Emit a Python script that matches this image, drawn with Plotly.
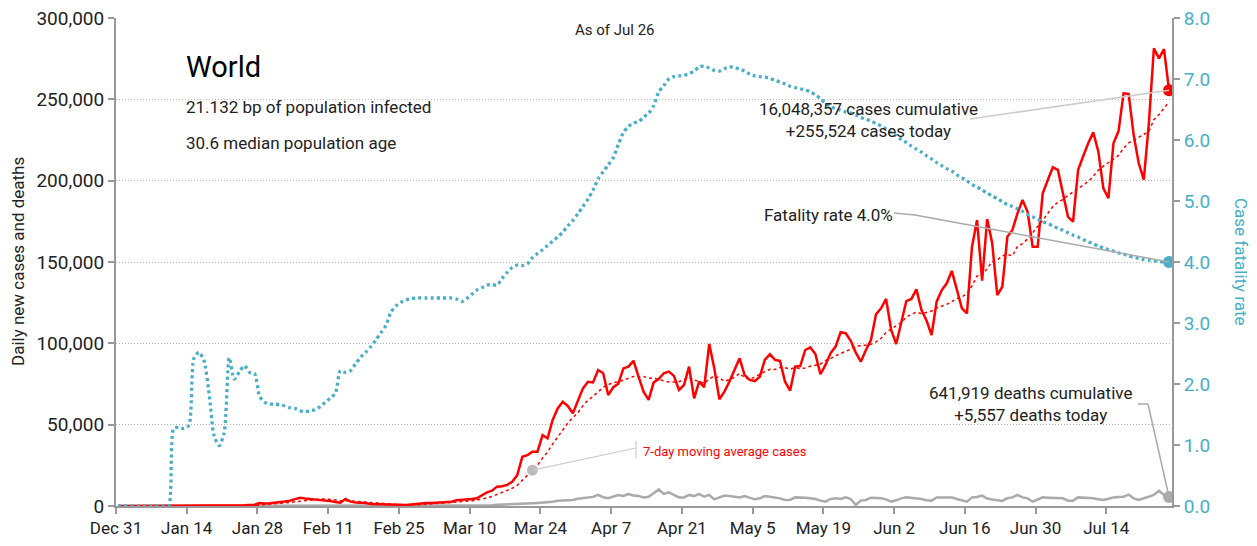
import pandas as pd
import plotly.graph_objects as go

# ---------------- data ----------------
start_date = "2019-12-31"

cases = [
    0, 0, 0, 0, 0, 0, 0, 0, 0, 0,
    0, 0, 0, 0, 0, 0, 0, 20, 20, 140,
    20, 150, 140, 100, 270, 450, 670, 800, 1770, 1480,
    1750, 2000, 2500, 2800, 3300, 4000, 5100, 4600, 4300, 4300,
    4000, 3300, 3000, 2500, 2000, 4300, 2700, 2200, 2000, 1900,
    1200, 1100, 900, 800, 600, 500, 400, 600, 900, 1300,
    1600, 1800, 1900, 2000, 2200, 2400, 2600, 3600, 3700, 4000,
    4300, 4700, 6500, 8400, 9400, 11900, 12100, 13000, 14900, 19000,
    30300, 31300, 33400, 33400, 43600, 41600, 52900, 60000, 64100, 61500,
    57000, 64100, 72300, 76400, 76000, 83600, 81600, 68200, 73000, 75200,
    84600, 85700, 89300, 79500, 70300, 65200, 76000, 78000, 81600, 82600,
    80000, 71300, 74400, 85700, 66200, 76500, 73000, 99600, 84600, 65600,
    70300, 76500, 83600, 90800, 80500, 77500, 76800, 79500, 89800, 93400,
    89800, 89200, 76400, 70900, 85700, 86000, 95900, 97500, 93400, 81000,
    86700, 93900, 98000, 106800, 106200, 101600, 94300, 88700, 95900, 102000,
    117800, 121500, 127300, 108200, 99600, 113000, 126000, 127300, 133200, 120500,
    114000, 105100, 125600, 132600, 136900, 144500, 133800, 121500, 118400, 159400,
    175800, 138500, 176400, 161500, 129700, 134800, 165600, 169700, 179900, 188100,
    180900, 159400, 159400, 192200, 200400, 208200, 206600, 192200, 177800, 174800,
    206600, 215000, 223000, 229700, 218000, 195300, 189200, 223000, 230500, 253700,
    253300, 228000, 210700, 200600, 235000, 281400, 275200, 280800, 255524,
]

deaths = [
    0, 0, 0, 0, 0, 0, 0, 0, 0, 0,
    0, 1, 0, 0, 0, 0, 0, 0, 0, 1,
    3, 10, 10, 15, 15, 15, 25, 25, 26, 38,
    43, 46, 45, 57, 64, 66, 73, 73, 86, 89,
    97, 108, 97, 146, 121, 143, 142, 105, 98, 136,
    115, 118, 109, 97, 150, 71, 64, 37, 58, 67,
    72, 69, 86, 73, 87, 100, 105, 104, 99, 230,
    250, 300, 350, 400, 450, 700, 800, 850, 1000, 1100,
    1300, 1600, 1700, 1900, 2100, 2400, 2600, 3200, 3400, 3300,
    3700, 4500, 4900, 5300, 5600, 6800, 5400, 4800, 6000, 6800,
    6200, 7400, 6500, 6200, 5300, 5700, 7800, 10200, 7400, 8400,
    6800, 5300, 5300, 6800, 6100, 7400, 5700, 6800, 4100, 5300,
    6400, 6100, 5700, 5300, 6100, 5300, 4100, 4700, 6100, 5700,
    5300, 4700, 3700, 3700, 5300, 5300, 5100, 4700, 4300, 3300,
    2650, 4300, 4700, 4300, 5300, 4300, 600, 3300, 3700, 5100,
    5100, 4700, 4100, 2700, 3500, 4700, 5300, 5000, 4700, 4300,
    3600, 3300, 5300, 5200, 5300, 5300, 4300, 3300, 2650, 5300,
    5500, 6400, 4600, 4000, 3500, 3100, 4800, 5300, 6800, 5300,
    4700, 2650, 4000, 5300, 5100, 4900, 4800, 4700, 3300, 3300,
    5300, 5200, 5000, 4700, 4200, 3700, 4500, 5300, 5500, 5700,
    7000, 4700, 3700, 4700, 5700, 6800, 9400, 6800, 5557,
]

fatality_pct = [
    0, 0, 0, 0, 0, 0, 0, 0, 0, 0,
    0, 1.27, 1.29, 1.27, 1.32, 2.42, 2.52, 2.38, 1.85, 1.15,
    0.99, 1.20, 2.43, 2.08, 2.20, 2.30, 2.19, 2.17, 1.80, 1.70,
    1.67, 1.67, 1.66, 1.64, 1.61, 1.60, 1.56, 1.55, 1.56, 1.58,
    1.63, 1.70, 1.77, 1.85, 2.22, 2.19, 2.22, 2.33, 2.44, 2.52,
    2.61, 2.72, 2.84, 2.96, 3.18, 3.28, 3.34, 3.38, 3.40, 3.41,
    3.41, 3.41, 3.41, 3.41, 3.41, 3.41, 3.41, 3.39, 3.35, 3.40,
    3.47, 3.54, 3.58, 3.62, 3.63, 3.62, 3.73, 3.83, 3.91, 3.95,
    3.94, 3.97, 4.07, 4.14, 4.20, 4.27, 4.34, 4.41, 4.49, 4.59,
    4.68, 4.79, 4.91, 5.03, 5.18, 5.36, 5.48, 5.59, 5.71, 5.93,
    6.12, 6.22, 6.28, 6.30, 6.37, 6.44, 6.56, 6.79, 6.89, 7.00,
    7.04, 7.05, 7.06, 7.09, 7.13, 7.20, 7.21, 7.18, 7.14, 7.13,
    7.17, 7.20, 7.19, 7.16, 7.13, 7.08, 7.05, 7.04, 7.03, 7.01,
    6.98, 6.95, 6.92, 6.88, 6.86, 6.84, 6.82, 6.79, 6.74, 6.68,
    6.60, 6.55, 6.51, 6.49, 6.46, 6.44, 6.41, 6.37, 6.34, 6.31,
    6.27, 6.23, 6.18, 6.12, 6.07, 6.01, 5.96, 5.90, 5.85, 5.80,
    5.74, 5.69, 5.63, 5.58, 5.53, 5.49, 5.43, 5.38, 5.33, 5.27,
    5.23, 5.18, 5.13, 5.08, 5.04, 4.99, 4.94, 4.91, 4.87, 4.83,
    4.78, 4.74, 4.70, 4.66, 4.63, 4.59, 4.55, 4.52, 4.48, 4.44,
    4.41, 4.37, 4.33, 4.30, 4.26, 4.23, 4.20, 4.18, 4.15, 4.13,
    4.10, 4.08, 4.06, 4.04, 4.03, 4.02, 4.01, 4.00, 4.00,
]

tick_dates = ["2019-12-31", "2020-01-14", "2020-01-28", "2020-02-11", "2020-02-25",
              "2020-03-10", "2020-03-24", "2020-04-07", "2020-04-21", "2020-05-05",
              "2020-05-19", "2020-06-02", "2020-06-16", "2020-06-30", "2020-07-14"]
tick_labels = ["Dec 31", "Jan 14", "Jan 28", "Feb 11", "Feb 25", "Mar 10", "Mar 24",
               "Apr 7", "Apr 21", "May 5", "May 19", "Jun 2", "Jun 16", "Jun 30", "Jul 14"]

left_ticks = [0, 50000, 100000, 150000, 200000, 250000, 300000]
right_ticks = [0, 1, 2, 3, 4, 5, 6, 7, 8]

assert len(cases) == len(deaths) == len(fatality_pct) == 209

# ---------------- derived ----------------
dates = pd.date_range(start_date, periods=len(cases), freq="D") + pd.Timedelta(hours=10)
ma7 = pd.Series(cases).rolling(7, min_periods=1).mean().tolist()

RED = "#ff0000"
CYAN = "#48aec8"
GRAY = "#aaaaaa"
FONT = "Roboto, Liberation Sans, sans-serif"

# page body has an 8px margin; screen coordinates below are converted accordingly
OFF = 8
W, H = 1257, 546
PL, PR, PT, PB = 116, 1172, 18, 506          # plot area in screen pixels
PW, PH = PR - PL, PB - PT
ML, MT = PL - OFF, PT - OFF
MR, MB = W - ML - PW, H - MT - PH
X_START, X_END = pd.Timestamp("2019-12-31"), pd.Timestamp("2020-07-27")
DAY_PX = PW / (X_END - X_START).days


def px_date(px):
    return X_START + pd.Timedelta(days=(px - PL) / DAY_PX)


def px_val(py):
    return (PB - py) / PH * 300000


def paper_x(px):
    return (px - PL) / PW


def paper_y(py):
    return (PB - py) / PH


fig = go.Figure()

fig.add_trace(go.Scatter(x=dates, y=fatality_pct, yaxis="y2", mode="lines",
                         line=dict(color=CYAN, width=3.3, dash="3px,3.2px", shape="spline", smoothing=0.7),
                         hoverinfo="skip", showlegend=False))
fig.add_trace(go.Scatter(x=dates, y=deaths, mode="lines",
                         line=dict(color=GRAY, width=2.5), hoverinfo="skip", showlegend=False))
fig.add_trace(go.Scatter(x=dates, y=ma7, mode="lines",
                         line=dict(color=RED, width=1.5, dash="dot"), hoverinfo="skip", showlegend=False))
fig.add_trace(go.Scatter(x=dates, y=cases, mode="lines",
                         line=dict(color=RED, width=2.5), hoverinfo="skip", showlegend=False))

shapes = []
shapes.append(dict(type="line", xref="x", yref="y", x0=px_date(970), y0=px_val(119),
                   x1=dates[-1], y1=cases[-1], line=dict(color="#cccccc", width=1.5)))
shapes.append(dict(type="line", xref="x", yref="y", x0=px_date(894), y0=px_val(213),
                   x1=px_date(915), y1=px_val(215), line=dict(color=GRAY, width=1.5)))
shapes.append(dict(type="line", xref="x", yref="y2", x0=px_date(915), y0=(PB - 215) / PH * 8,
                   x1=dates[-1], y1=fatality_pct[-1], line=dict(color=GRAY, width=1.5)))
shapes.append(dict(type="line", xref="x", yref="y", x0=px_date(1138), y0=px_val(404),
                   x1=px_date(1148), y1=px_val(404), line=dict(color=GRAY, width=1.5)))
shapes.append(dict(type="line", xref="x", yref="y", x0=px_date(1148), y0=px_val(404),
                   x1=dates[-1], y1=deaths[-1], line=dict(color=GRAY, width=1.5)))
ma_idx = 82
shapes.append(dict(type="line", xref="x", yref="y", x0=px_date(636), y0=px_val(441),
                   x1=px_date(636), y1=px_val(458), line=dict(color="#cccccc", width=1.2)))
shapes.append(dict(type="line", xref="x", yref="y", x0=px_date(636), y0=px_val(448),
                   x1=dates[ma_idx], y1=ma7[ma_idx], line=dict(color="#cccccc", width=1.2)))

fig.add_trace(go.Scatter(x=[dates[ma_idx]], y=[ma7[ma_idx]], mode="markers",
                         marker=dict(color="#bbbbbb", size=11), hoverinfo="skip", showlegend=False))
fig.add_trace(go.Scatter(x=[dates[-1]], y=[deaths[-1]], mode="markers",
                         marker=dict(color="#aaaaaa", size=12), hoverinfo="skip", showlegend=False))
fig.add_trace(go.Scatter(x=[dates[-1]], y=[fatality_pct[-1]], yaxis="y2", mode="markers",
                         marker=dict(color=CYAN, size=12), hoverinfo="skip", showlegend=False))
fig.add_trace(go.Scatter(x=[dates[-1]], y=[cases[-1]], mode="markers",
                         marker=dict(color=RED, size=12), hoverinfo="skip", showlegend=False))

annotations = [
    dict(text="As of Jul 26", x=paper_x(615), y=paper_y(30), font=dict(size=15, color="#222")),
    dict(text="World", x=paper_x(184), y=paper_y(67), xanchor="left", font=dict(size=29, color="#000")),
    dict(text="21.132 bp of population infected", x=paper_x(184), y=paper_y(107), xanchor="left",
         font=dict(size=17, color="#222")),
    dict(text="30.6 median population age", x=paper_x(184), y=paper_y(143), xanchor="left",
         font=dict(size=17, color="#222")),
    dict(text="16,048,357 cases cumulative<br>+255,524 cases today", x=paper_x(868), y=paper_y(120),
         align="center", font=dict(size=17, color="#222")),
    dict(text="Fatality rate 4.0%", x=paper_x(828), y=paper_y(215), font=dict(size=17, color="#222")),
    dict(text="641,919 deaths cumulative<br>+5,557 deaths today", x=paper_x(1030), y=paper_y(404),
         align="center", font=dict(size=17, color="#222")),
    dict(text="7-day moving average cases", x=paper_x(641), y=paper_y(451), xanchor="left",
         font=dict(size=13, color=RED)),
    dict(text="Daily new cases and deaths", x=paper_x(18), y=paper_y(262), textangle=-90,
         font=dict(size=17, color="#222")),
    dict(text="Case fatality rate", x=paper_x(1241), y=paper_y(262), textangle=90,
         font=dict(size=17, color=CYAN)),
]
for a in annotations:
    a.setdefault("xref", "paper")
    a.setdefault("yref", "paper")
    a.setdefault("showarrow", False)
    a.setdefault("xanchor", "center")
    a.setdefault("yanchor", "middle")

fig.update_layout(
    width=W, height=H,
    margin=dict(l=ML, r=MR, t=MT, b=MB, autoexpand=False),
    paper_bgcolor="white", plot_bgcolor="white",
    font=dict(family=FONT, size=17, color="#222"),
    showlegend=False,
    shapes=shapes,
    annotations=annotations,
    xaxis=dict(range=[X_START, X_END], tickvals=tick_dates, ticktext=tick_labels,
               showgrid=False, showline=True, linecolor="#999", linewidth=2,
               ticks="outside", ticklen=6, tickcolor="#999", tickwidth=2,
               tickfont=dict(size=17, color="#222"), zeroline=False, automargin=False,
               ticklabeloverflow="allow"),
    yaxis=dict(range=[0, 300000], tickvals=left_ticks, tickformat=",d",
               showgrid=True, gridcolor="#b5b5b5", griddash="1px,2px", gridwidth=1,
               showline=True, linecolor="#999", linewidth=2,
               ticks="outside", ticklen=6, tickcolor="#999", tickwidth=2,
               tickfont=dict(size=19, color="#222"), zeroline=False, automargin=False,
               ticklabeloverflow="allow"),
    yaxis2=dict(range=[0, 8], tickvals=right_ticks, tickformat=".1f", ticksuffix="%",
                overlaying="y", side="right", showgrid=False,
                showline=True, linecolor="#999", linewidth=2,
                ticks="outside", ticklen=6, tickcolor="#999", tickwidth=2,
                tickfont=dict(size=19, color=CYAN), zeroline=False, automargin=False,
                ticklabeloverflow="allow"),
)

fig.write_html("out.html")
